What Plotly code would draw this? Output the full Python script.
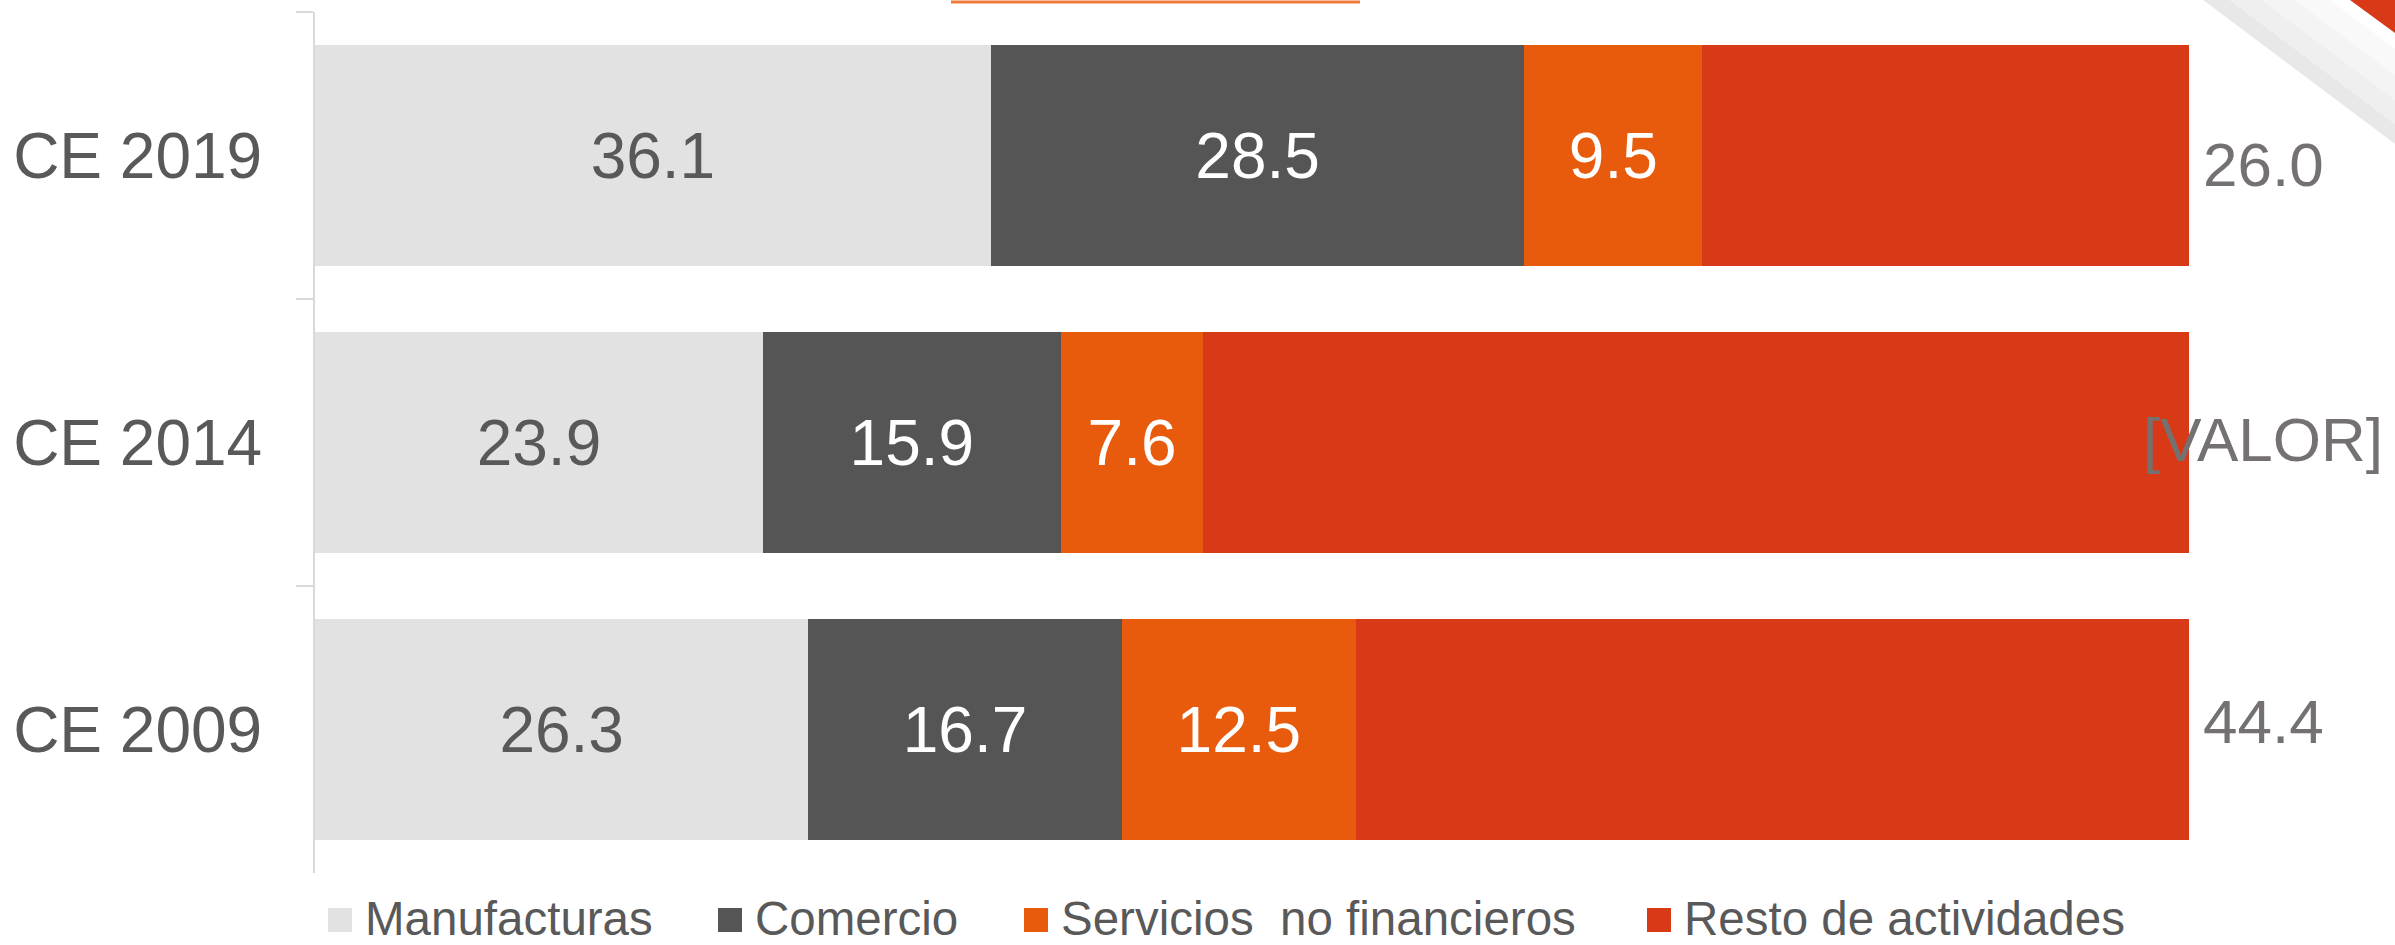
import plotly.graph_objects as go

# ---- data ----
categories = ["CE 2019", "CE 2014", "CE 2009"]
manufacturas = [36.1, 23.9, 26.3]
comercio = [28.5, 15.9, 16.7]
servicios = [9.5, 7.6, 12.5]
resto = [26.0, 52.6, 44.4]
resto_labels = ["26.0", "[VALOR]", "44.4"]
series_names = ["Manufacturas", "Comercio", "Servicios\u00a0 no financieros", "Resto de actividades"]
colors = ["#E2E2E2", "#555555", "#E85B0D", "#D83A17"]
label_colors = ["#595959", "#FFFFFF", "#FFFFFF", None]

# ---- layout constants (pixels) ----
FONT = "Liberation Sans, Arial, sans-serif"
W, H = 2395, 945
ML, MR, MT, MB = 315, 206, 12, 72
PW, PH = W - ML - MR, H - MT - MB
LEGEND_SWATCH_X = [328, 718, 1024, 1647]   # left edge of each legend swatch
LEGEND_TEXT_GAP = 11
LEGEND_Y = 918
SWATCH = 24
OUTSIDE_LABEL_XSHIFT = 74
OUTSIDE_LABEL_YSHIFT = [-9, 3, 8]         # label placement offsets (px)

fig = go.Figure()
all_series = [manufacturas, comercio, servicios, resto]
for i, (vals, name) in enumerate(zip(all_series, series_names)):
    show_text = label_colors[i] is not None
    fig.add_trace(go.Bar(
        y=categories, x=vals, orientation="h", name=name,
        marker=dict(color=colors[i], line=dict(width=0)),
        text=[f"{v:.1f}" for v in vals] if show_text else None,
        textposition="inside" if show_text else "none",
        insidetextanchor="middle",
        textfont=dict(family=FONT, size=64, color=label_colors[i] or "#000"),
        textangle=0,
        showlegend=False,
    ))

# outside labels for the last segment (bars normalised to 100 %)
for cat, lab, ys in zip(categories, resto_labels, OUTSIDE_LABEL_YSHIFT):
    fig.add_annotation(x=100, y=cat, text=lab, showarrow=False, xanchor="center",
                       yanchor="middle", xshift=OUTSIDE_LABEL_XSHIFT, yshift=ys,
                       font=dict(family=FONT, size=62, color="#767171"))

def px_x(px):
    return (px - ML) / PW

def px_y(py):
    return (H - MB - py) / PH

def band(x0, x1, color):
    s = 0.75
    return dict(type="path", xref="paper", yref="paper",
                path=(f"M {px_x(x0)},{px_y(0)} L {px_x(2395)},{px_y((2395 - x0) * s)} "
                      f"L {px_x(2395)},{px_y((2395 - x1) * s)} L {px_x(x1)},{px_y(0)} Z"),
                fillcolor=color, line=dict(width=0), layer="below")

shapes = [
    # orange header line (decoration)
    dict(type="line", xref="paper", yref="paper",
         x0=px_x(951), x1=px_x(1360), y0=px_y(2), y1=px_y(2),
         line=dict(color="#F07A3A", width=3)),
    # corner shadow (decoration)
    band(2203, 2230, "#E8E8E8"),
    band(2230, 2262, "#EFEFEF"),
    band(2262, 2295, "#F4F4F4"),
    band(2295, 2330, "#F9F9F9"),
    # corner red triangle (decoration)
    dict(type="path", xref="paper", yref="paper",
         path=f"M {px_x(2350)},{px_y(0)} L {px_x(2395)},{px_y(0)} L {px_x(2395)},{px_y(33)} Z",
         fillcolor="#D83A17", line=dict(width=0)),
]

# legend (swatch + label per series)
for name, col, sx in zip(series_names, colors, LEGEND_SWATCH_X):
    shapes.append(dict(type="rect", xref="paper", yref="paper",
                       x0=px_x(sx), x1=px_x(sx + SWATCH),
                       y0=px_y(LEGEND_Y + 2 - SWATCH / 2), y1=px_y(LEGEND_Y + 2 + SWATCH / 2),
                       fillcolor=col, line=dict(width=0)))
    fig.add_annotation(xref="paper", yref="paper", x=px_x(sx + SWATCH + LEGEND_TEXT_GAP),
                       y=px_y(LEGEND_Y), text=name, showarrow=False,
                       xanchor="left", yanchor="middle",
                       font=dict(family=FONT, size=47.5, color="#595959"))

fig.update_layout(
    width=W, height=H,
    margin=dict(l=ML, r=MR, t=MT, b=MB),
    paper_bgcolor="white", plot_bgcolor="white",
    barmode="stack", barnorm="percent", bargap=0.227,
    font=dict(family=FONT, color="#595959"),
    showlegend=False,
    shapes=shapes,
    xaxis=dict(visible=False, range=[0, 100], fixedrange=True),
    yaxis=dict(categoryorder="array", categoryarray=categories,
               range=[2.5, -0.5], showline=True, linecolor="#D9D9D9", linewidth=2,
               ticks="outside", ticklen=17, tickcolor="#D9D9D9", tickwidth=2,
               tickson="boundaries", ticklabelstandoff=38, fixedrange=True,
               tickfont=dict(family=FONT, size=64, color="#595959"),
               showgrid=False, zeroline=False),
)

fig.write_html("out.html", config={"responsive": False, "displayModeBar": False},
               post_script="document.body.style.margin='0';document.body.style.overflow='hidden';")
